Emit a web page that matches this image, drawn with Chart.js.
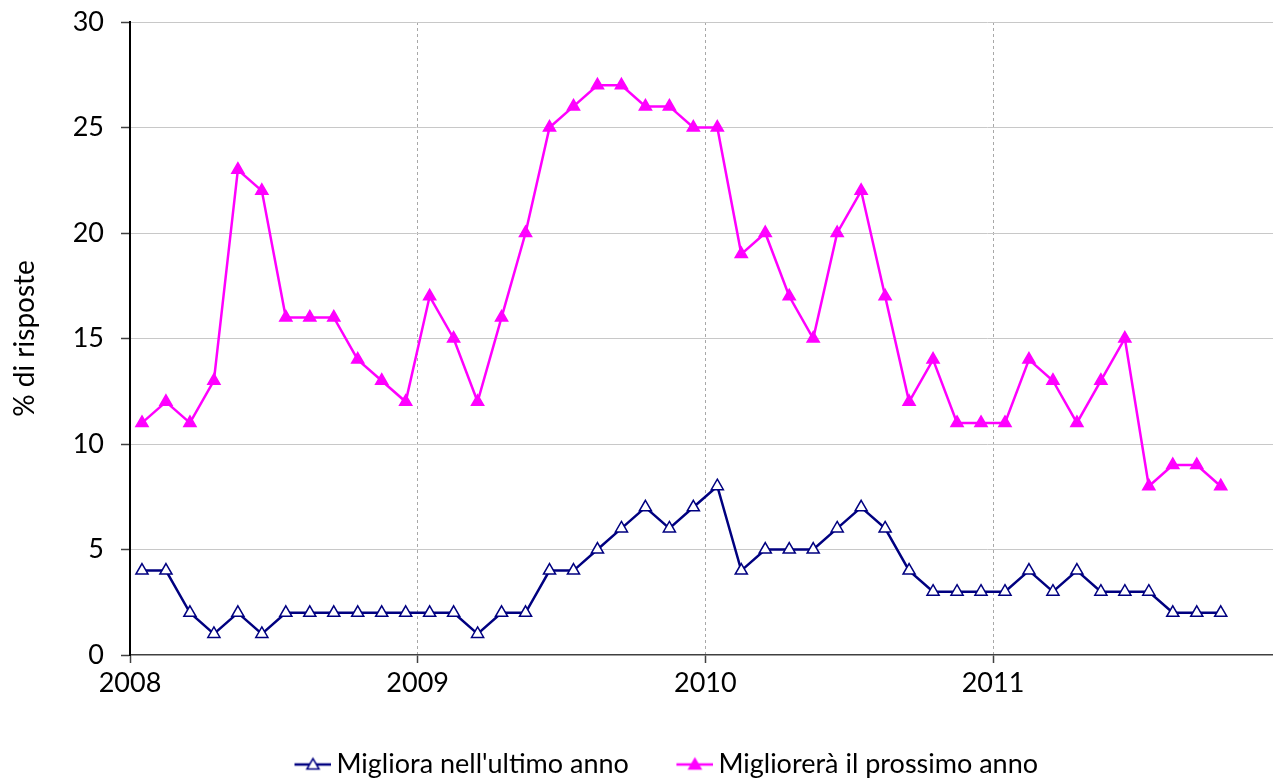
<!DOCTYPE html>
<html>
<head>
<meta charset="utf-8">
<script src="https://cdn.jsdelivr.net/npm/chart.js@4.4.1/dist/chart.umd.min.js"></script>
<style>
html,body{margin:0;padding:0;background:#fff;}
#wrap{width:1273px;height:780px;position:relative;}
</style>
</head>
<body>
<div id="wrap"><canvas id="c" width="1273" height="780"></canvas></div>
<script>
const months = [
  '2008-01','2008-02','2008-03','2008-04','2008-05','2008-06','2008-07','2008-08','2008-09','2008-10','2008-11','2008-12',
  '2009-01','2009-02','2009-03','2009-04','2009-05','2009-06','2009-07','2009-08','2009-09','2009-10','2009-11','2009-12',
  '2010-01','2010-02','2010-03','2010-04','2010-05','2010-06','2010-07','2010-08','2010-09','2010-10','2010-11','2010-12',
  '2011-01','2011-02','2011-03','2011-04','2011-05','2011-06','2011-07','2011-08','2011-09','2011-10'
];
const migliora = [4,4,2,1,2,1,2,2,2,2,2,2,2,2,1,2,2,4,4,5,6,7,6,7,8,4,5,5,5,6,7,6,4,3,3,3,3,4,3,4,3,3,3,2,2,2];
const migliorera = [11,12,11,13,23,22,16,16,16,14,13,12,17,15,12,16,20,25,26,27,27,26,26,25,25,19,20,17,15,20,22,17,12,14,11,11,11,14,13,11,13,15,8,9,9,8];
const seriesNames = ["Migliora nell'ultimo anno", "Migliorerà il prossimo anno"];
const yearLabels = ['2008','2009','2010','2011'];
const yTicks = [0,5,10,15,20,25,30];
const yTitle = '% di risposte';

const BASE_YEAR = Number(yearLabels[0]);
function monthPos(s){ const p = s.split('-').map(Number); return (p[0]-BASE_YEAR)*12 + (p[1]-1) + 0.5; }
const yearPos = yearLabels.map(y => (Number(y)-BASE_YEAR)*12);

const NAVY = '#000080', PINK = '#ff00ff';
const FONT = 'Lato, "Open Sans", sans-serif';
const FS = 27;
const LEG_PAD = 2;
const BOXW = 74;
const LEG_SHIFT = 7;

function makeIcon(color, fill){
  const W = BOXW + FS - 10, H = 20;
  const c = document.createElement('canvas');
  c.width = W; c.height = H;
  const g = c.getContext('2d');
  const x1 = BOXW + FS - 47, x2 = W;
  g.strokeStyle = color; g.lineWidth = 2.5;
  g.beginPath(); g.moveTo(x1, H/2); g.lineTo(x2, H/2); g.stroke();
  const cx = (x1+x2)/2, cy = H/2, r = 7;
  g.beginPath();
  for (let k=0;k<3;k++){
    const a = k*2*Math.PI/3;
    const px = cx + Math.sin(a)*r, py = cy - Math.cos(a)*r + 1;
    if (k===0) g.moveTo(px,py); else g.lineTo(px,py);
  }
  g.closePath();
  g.fillStyle = fill; g.fill();
  g.lineWidth = 1.5; g.strokeStyle = color; g.stroke();
  return c;
}
const icons = [makeIcon(NAVY,'#ffffff'), makeIcon(PINK,PINK)];

const xs = months.map(monthPos);
const toPts = arr => arr.map((v,i)=>({x:xs[i], y:v}));

const legendShift = {
  id: 'legendShift',
  afterLayout(chart){
    const lg = chart.legend;
    if (lg) { lg.left += LEG_SHIFT; lg.right += LEG_SHIFT; }
  }
};

new Chart(document.getElementById('c'), {
  type: 'line',
  data: {
    datasets: [
      {
        label: seriesNames[0], data: toPts(migliora),
        borderColor: NAVY, borderWidth: 2.5, backgroundColor: '#ffffff',
        pointStyle: 'triangle', pointRadius: 7, pointBorderWidth: 1.5,
        pointBackgroundColor: '#ffffff', pointBorderColor: NAVY, tension: 0
      },
      {
        label: seriesNames[1], data: toPts(migliorera),
        borderColor: PINK, borderWidth: 2.5, backgroundColor: PINK,
        pointStyle: 'triangle', pointRadius: 7, pointBorderWidth: 1.5,
        pointBackgroundColor: PINK, pointBorderColor: PINK, tension: 0
      }
    ]
  },
  plugins: [legendShift],
  options: {
    responsive: false, animation: false, devicePixelRatio: 1,
    layout: { autoPadding: false, padding: { top: 22, right: 0, bottom: -8, left: 0 } },
    plugins: {
      tooltip: { enabled: false },
      legend: {
        position: 'bottom',
        labels: {
          usePointStyle: true, pointStyleWidth: BOXW, padding: LEG_PAD,
          color: '#000', font: { family: FONT, size: FS },
          generateLabels: (chart) => chart.data.datasets.map((ds,i)=>({
            text: ds.label, pointStyle: icons[i], fillStyle: 'transparent',
            strokeStyle: 'transparent', lineWidth: 0, fontColor: '#000',
            hidden: false, datasetIndex: i
          }))
        }
      }
    },
    scales: {
      x: {
        type: 'linear', min: 0, max: 47.68,
        afterBuildTicks: (s) => { s.ticks = yearPos.map(v=>({value:v})); },
        afterFit: (s) => { s.height = 94; s.paddingRight = 0; s.paddingLeft = 0; },
        ticks: {
          callback: (v) => { const i = yearPos.indexOf(v); return i>=0 ? yearLabels[i] : ''; },
          color: '#000', font: { family: FONT, size: 27 }, padding: 4, maxRotation: 0, autoSkip: false
        },
        grid: {
          color: (ctx) => (ctx.tick && ctx.tick.value === 0) ? 'rgba(0,0,0,0)' : '#a8a8a8',
          lineWidth: 1, tickLength: 8, tickColor: '#404040', tickWidth: 1.5, tickBorderDash: []
        },
        border: { display: true, color: '#404040', width: 1.5, dash: [3,3] }
      },
      y: {
        min: 0, max: 30,
        afterBuildTicks: (s) => { s.ticks = yTicks.map(v=>({value:v})); },
        afterFit: (s) => { s.width = 130; s.paddingTop = 0; s.paddingBottom = 0; },
        ticks: { color: '#000', font: { family: FONT, size: 27 }, padding: 17 },
        grid: {
          color: (ctx) => (ctx.tick && ctx.tick.value === 0) ? 'rgba(0,0,0,0)' : '#c8c8c8',
          lineWidth: 1, tickLength: 9, tickColor: '#404040', tickWidth: 1.5
        },
        border: { display: true, color: '#000', width: 2 },
        title: { display: true, text: yTitle, color: '#000', font: { family: FONT, size: 28 }, padding: { top: 8, bottom: 0 } }
      }
    }
  }
});
</script>
</body>
</html>
